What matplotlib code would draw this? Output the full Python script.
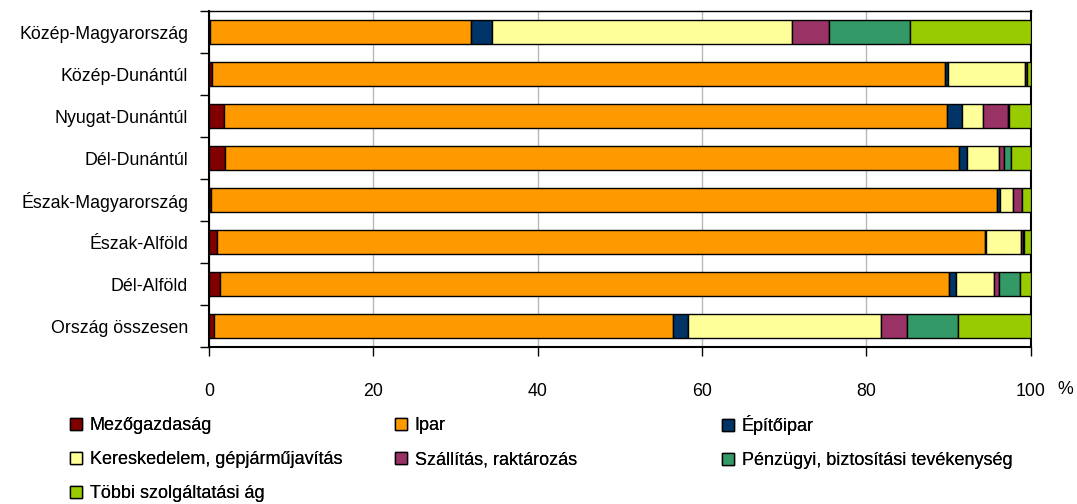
import matplotlib.pyplot as plt
import numpy as np

plt.rcParams['font.family'] = ['Liberation Sans', 'DejaVu Sans']

regions = ['Közép-Magyarország', 'Közép-Dunántúl', 'Nyugat-Dunántúl', 'Dél-Dunántúl',
           'Észak-Magyarország', 'Észak-Alföld', 'Dél-Alföld', 'Ország összesen']

sectors = ['Mezőgazdaság', 'Ipar', 'Építőipar', 'Kereskedelem, gépjárműjavítás',
           'Szállítás, raktározás', 'Pénzügyi, biztosítási tevékenység', 'Többi szolgáltatási ág']

colors = ['#800000', '#FF9900', '#003366', '#FFFF99', '#993366', '#339966', '#99CC00']

# shares in %, one list per sector, in region order
mezogazdasag = [0.1, 0.4, 1.8, 2.0, 0.3, 1.0, 1.3, 0.6]
ipar = [31.8, 89.2, 88.0, 89.3, 95.6, 93.5, 88.8, 55.9]
epitoipar = [2.5, 0.3, 1.8, 1.0, 0.4, 0.1, 0.8, 1.8]
kereskedelem = [36.5, 9.4, 2.6, 3.9, 1.6, 4.2, 4.6, 23.5]
szallitas = [4.6, 0.2, 3.0, 0.5, 1.0, 0.3, 0.7, 3.2]
penzugy = [9.8, 0.1, 0.1, 0.9, 0.1, 0.1, 2.5, 6.1]
tobbi = [14.7, 0.4, 2.7, 2.4, 1.0, 0.8, 1.3, 8.9]

values = [mezogazdasag, ipar, epitoipar, kereskedelem, szallitas, penzugy, tobbi]

fs = 12.8
fig = plt.figure(figsize=(10.77, 5.04), dpi=100)
ax = fig.add_axes([0.194, 0.311, 0.763, 0.667])

y = np.arange(len(regions))
left = np.zeros(len(regions))
handles = []
for name, vals, col in zip(sectors, values, colors):
    vals = np.array(vals)
    h = ax.barh(y, vals, left=left, height=0.57, color=col, edgecolor='black',
                linewidth=1, label=name, zorder=3)
    handles.append(h)
    left = left + vals

ax.set_xlim(0, 100)
ax.set_ylim(len(regions) - 0.5, -0.5)
ax.set_yticks(y)
ax.set_yticklabels(regions, fontsize=fs)
ax.set_xticks([0, 20, 40, 60, 80, 100])
ax.set_xticklabels(['0', '20', '40', '60', '80', '100'], fontsize=fs)
ax.tick_params(axis='x', direction='out', length=6.5, width=1, pad=19)
ax.set_yticks(np.arange(len(regions) + 1) - 0.5, minor=True)
ax.tick_params(axis='y', which='minor', direction='out', length=6.5, width=1)
ax.tick_params(axis='y', which='major', length=0, pad=15)
ax.grid(axis='x', color='#B8B8B8', linewidth=1, zorder=0)
for s in ax.spines.values():
    s.set_color('black')
    s.set_linewidth(1)
ax.spines['left'].set_linewidth(1.5)
ax.spines['bottom'].set_linewidth(1.5)
ax.spines['right'].set_linewidth(1.5)

fig.text(1065 / 1077, 1 - 389 / 504, '%', fontsize=fs, ha='center', va='center')

# Excel-style legend: three equal-width columns, filled row by row
col_x = [70, 395, 722]
col_top = [417, 417, 415]
for c in range(3):
    idx = list(range(c, len(sectors), 3))
    leg = fig.legend([handles[i] for i in idx], [sectors[i] for i in idx],
                     loc='upper left', bbox_to_anchor=(col_x[c] / 1077, 1 - col_top[c] / 504),
                     frameon=False, fontsize=13, handlelength=0.65, handleheight=0.65,
                     handletextpad=0.45, labelspacing=0.95, borderpad=0, borderaxespad=0)
    fig.add_artist(leg)

fig.savefig('out.png', dpi=100)
